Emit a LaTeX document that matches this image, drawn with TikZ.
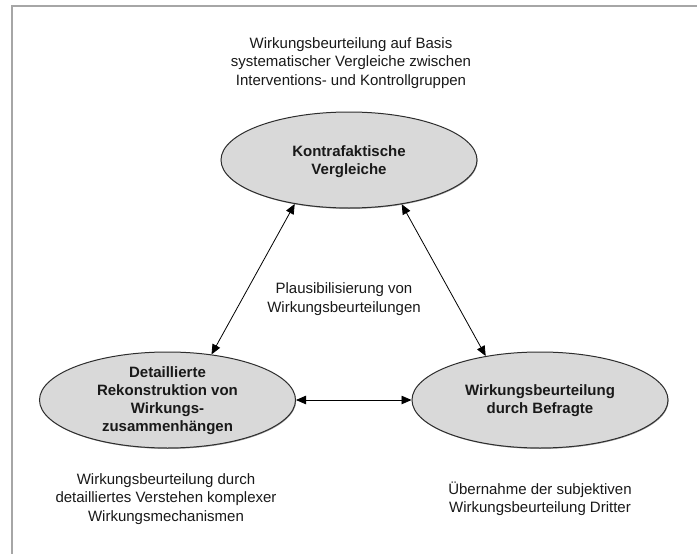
\documentclass[tikz,border=0pt]{standalone}
\usepackage{fontspec}
\setmainfont{Liberation Sans}
\usetikzlibrary{shapes.geometric,arrows.meta,shadows}
\definecolor{ellfill}{RGB}{217,217,217}
\definecolor{ellline}{RGB}{45,45,45}
\definecolor{framegray}{RGB}{166,166,166}
\definecolor{txt}{RGB}{25,25,25}
\begin{document}
\begin{tikzpicture}[x=1pt,y=-1pt,
  ell/.style={ellipse, draw=ellline, line width=1pt, fill=ellfill,
    minimum width=256pt, minimum height=96pt, inner sep=0pt,
    drop shadow={shadow xshift=0.6pt, shadow yshift=-0.9pt, opacity=0.4, fill=black}},
  etext/.style={font=\fontsize{15}{18}\selectfont\bfseries, align=center, text=txt, inner sep=0pt},
  note/.style={font=\fontsize{15}{18.3}\selectfont, align=center, text=txt, inner sep=0pt},
  conn/.style={line width=0.8pt, {Triangle[length=10pt,width=8.5pt]}-{Triangle[length=10pt,width=8.5pt]}}
]
\useasboundingbox[fill=white] (0,0) rectangle (697,554);
\draw[framegray, line width=1.8pt] (11.8,554) -- (11.8,5.8) -- (697,5.8);

\node[ell] (kontra) at (349,160) {};
\node[ell] (rekon) at (167.5,400) {};
\node[ell] (befragt) at (540,400) {};

\node[etext] (kontraT) at (349,162) {Kontrafaktische\\Vergleiche};
\node[etext] (rekonT) at (167.5,401) {Detaillierte\\Rekonstruktion von\\Wirkungs-\\zusammenhängen};
\node[etext] (befragtT) at (540,401) {Wirkungsbeurteilung\\durch Befragte};

\node[note] (topnote) at (351,63) {Wirkungsbeurteilung auf Basis\\systematischer Vergleiche zwischen\\Interventions- und Kontrollgruppen};
\node[note] (midnote) at (344,299) {Plausibilisierung von\\Wirkungsbeurteilungen};
\node[note] (leftnote) at (166,499) {Wirkungsbeurteilung durch\\detailliertes Verstehen komplexer\\Wirkungsmechanismen};
\node[note] (rightnote) at (540,499) {Übernahme der subjektiven\\Wirkungsbeurteilung Dritter};

\draw[conn] (kontra.219) -- (rekon.46);
\draw[conn] (kontra.320) -- (befragt.141);
\draw[conn] (rekon.east) -- (befragt.west);
\end{tikzpicture}
\end{document}
